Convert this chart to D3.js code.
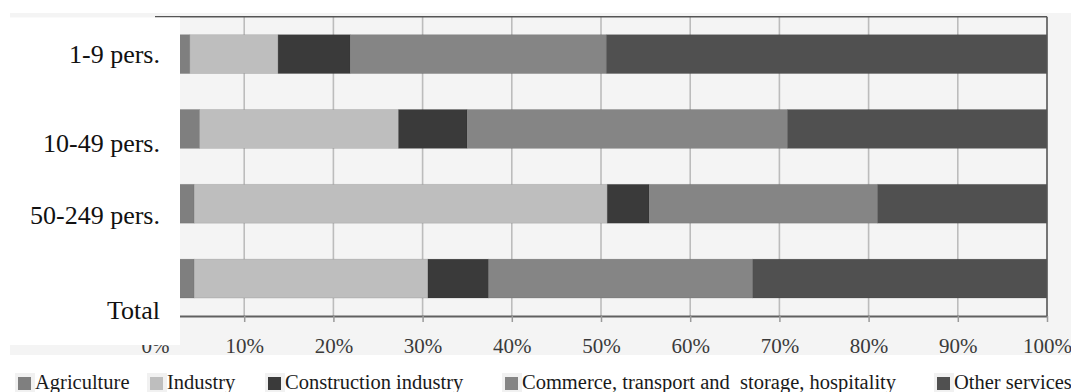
<!DOCTYPE html>
<html>
<head>
<meta charset="utf-8">
<script src="https://cdn.jsdelivr.net/npm/d3@7"></script>
<style>
  body { margin: 0; background: #fff; }
  text { font-family: "Liberation Serif", "Times New Roman", serif; }
</style>
</head>
<body>
<script>
// company size classes, top to bottom
const categories = ["1-9 pers.", "10-49 pers.", "50-249 pers.", "Total"];
const sectors = ["Agriculture", "Industry", "Construction industry",
                 "Commerce, transport and  storage, hospitality", "Other services"];

// shares in % per size class
const agriculture  = [3.9, 5.0, 4.4, 4.4];
const industry     = [9.9, 22.3, 46.3, 26.2];
const construction = [8.1, 7.7, 4.7, 6.8];
const commerce     = [28.7, 35.9, 25.6, 29.6];
const otherServ    = [49.4, 29.1, 19.0, 33.0];

const tickValues = [0, 10, 20, 30, 40, 50, 60, 70, 80, 90, 100];
const colors = ["#7f7f7f", "#bebebe", "#3a3a3a", "#858585", "#505050"];

const width = 1071, height = 392;
const svg = d3.select("body").append("svg")
    .attr("width", width).attr("height", height);

const plotLeft = 155, plotRight = 1047, plotTop = 16.7, plotBottom = 316;

// light gray chart area
svg.append("rect").attr("x", 10).attr("y", 13)
    .attr("width", width - 10).attr("height", 342).attr("fill", "#f4f4f4");

const x = d3.scaleLinear().domain([0, 100]).range([plotLeft, plotRight]);
const y = d3.scaleBand().domain(categories).range([plotTop, plotBottom])
    .paddingInner(0.48).paddingOuter(0.24);

// vertical gridlines
svg.append("g").selectAll("line").data(tickValues.slice(1, -1)).join("line")
    .attr("x1", d => x(d)).attr("x2", d => x(d))
    .attr("y1", plotTop).attr("y2", plotBottom)
    .attr("stroke", "#bcbcbc").attr("stroke-width", 1.6);

const table = categories.map((c, i) => ({
  cat: c,
  values: [agriculture[i], industry[i], construction[i], commerce[i], otherServ[i]]
}));

table.forEach(row => {
  let acc = 0;
  const segs = row.values.map((v, k) => {
    const s = { x0: acc, x1: acc + v, k: k };
    acc += v;
    return s;
  });
  // last segment closes at 100%
  segs[segs.length - 1].x1 = 100;
  svg.append("g").selectAll("rect").data(segs).join("rect")
      .attr("x", d => x(d.x0))
      .attr("y", y(row.cat))
      .attr("width", d => x(d.x1) - x(d.x0))
      .attr("height", y.bandwidth())
      .attr("fill", d => colors[d.k])
      .attr("stroke", "rgba(0,0,0,0.12)").attr("stroke-width", 0.8);
});

// frame: top + right border
svg.append("line").attr("x1", plotLeft).attr("x2", plotRight).attr("y1", plotTop).attr("y2", plotTop)
    .attr("stroke", "#555").attr("stroke-width", 1.6);
svg.append("line").attr("x1", plotRight).attr("x2", plotRight).attr("y1", plotTop).attr("y2", plotBottom)
    .attr("stroke", "#555").attr("stroke-width", 1.6);

// x axis
const xAxis = d3.axisBottom(x).tickValues(tickValues)
    .tickFormat(d => d + "%").tickSize(6).tickSizeOuter(0).tickPadding(16);
const ax = svg.append("g").attr("transform", "translate(0," + plotBottom + ")").call(xAxis);
ax.select(".domain").attr("stroke", "#606060").attr("stroke-width", 2);
ax.selectAll(".tick line").attr("stroke", "#9a9a9a").attr("stroke-width", 1.5);
ax.selectAll(".tick text").attr("font-size", 21).attr("fill", "#3a3a3a")
    .style("font-family", "'Liberation Serif', serif");

// white label box over the left part of the chart
svg.append("rect").attr("x", 10).attr("y", 17.5)
    .attr("width", 170).attr("height", 327.5).attr("fill", "#fff");

// category labels (nudged down like in the source document)
const labelNudge = [9, 23.5, 20.5, 40];
svg.append("g").selectAll("text").data(categories).join("text")
    .attr("x", 160)
    .attr("y", (d, i) => y(d) + y.bandwidth() / 2 + labelNudge[i])
    .attr("text-anchor", "end")
    .attr("font-size", 26)
    .attr("fill", "#111")
    .text(d => d);

// legend (item positions as laid out in the source document)
const legendX = [18, 150, 268, 505, 937];
const legend = svg.append("g").selectAll("g").data(sectors).join("g")
    .attr("transform", (d, i) => "translate(" + legendX[i] + ",0)");
legend.append("rect").attr("x", -3).attr("y", 373).attr("width", 20).attr("height", 19)
    .attr("fill", "#f1f1f1");
legend.append("rect").attr("x", 0).attr("y", 377).attr("width", 13).attr("height", 13)
    .attr("fill", (d, i) => colors[i]);
legend.append("text").attr("x", 17).attr("y", 389)
    .attr("font-size", 20.5).attr("fill", "#1a1a1a")
    .style("white-space", "pre")
    .text(d => d);
</script>
</body>
</html>
